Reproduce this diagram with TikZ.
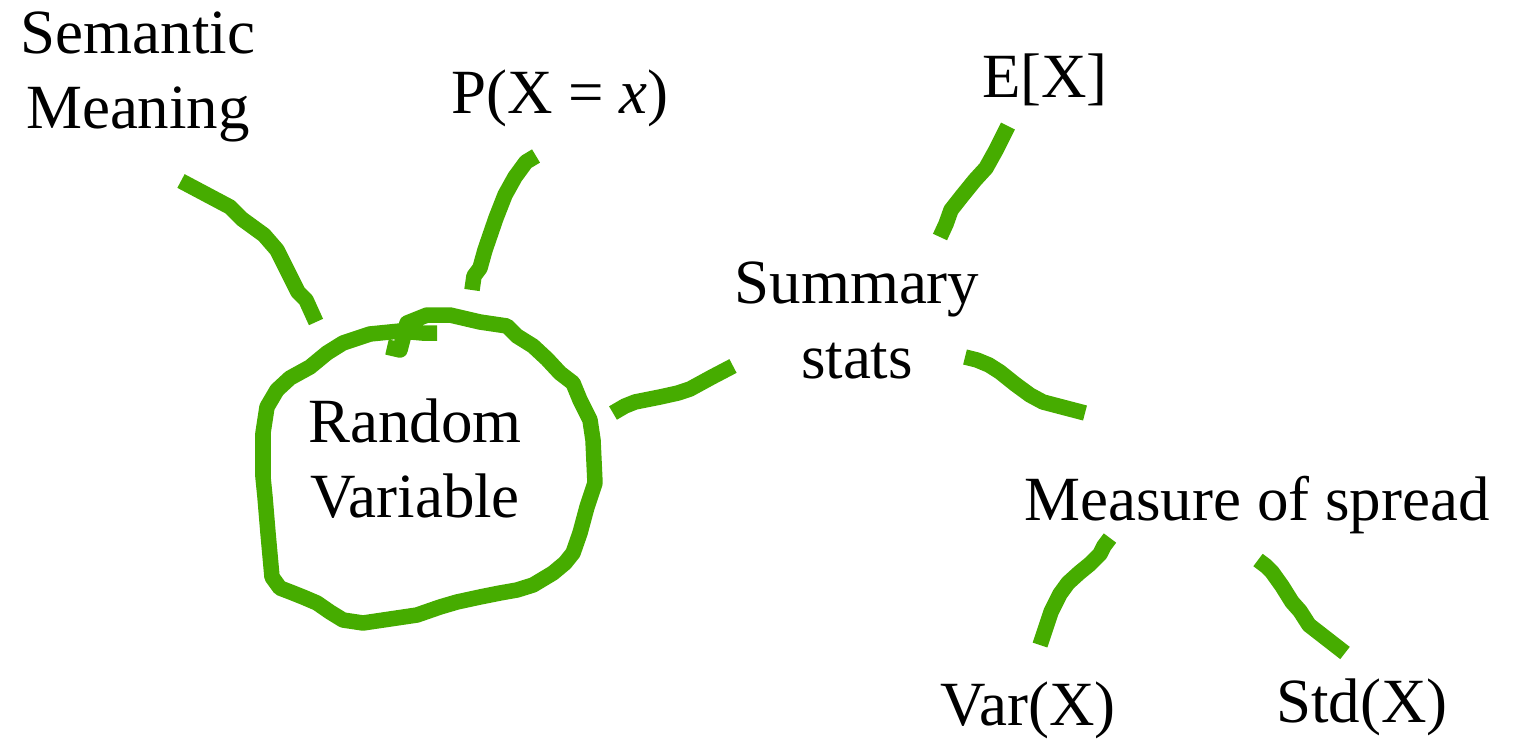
\documentclass[tikz,border=0pt]{standalone}
\usepackage{fontspec}
\setmainfont{Liberation Serif}
\definecolor{stroke}{RGB}{70,172,0}
\tikzset{
  lbl/.style={inner sep=0pt, anchor=base, align=center, font=\fontsize{17.9}{21.3}\selectfont},
  pen/.style={draw=stroke, line width=0.155cm, line cap=butt, line join=round}
}
\begin{document}
\begin{tikzpicture}[x=0.01cm,y=-0.01cm]
\useasboundingbox (0,0) rectangle (1520,742);
% labels
\node[lbl] (sem) at (138,128) {Semantic\\Meaning};
\node[lbl] (prob) at (560,113) {P(X = \textit{x})};
\node[lbl] (ex) at (1045,97) {E[X]};
\node[lbl] (sum) at (857,378) {Summary\\stats};
\node[lbl] (rv) at (415,517) {Random\\Variable};
\node[lbl] (spread) at (1257,520) {Measure of spread};
\node[lbl] (var) at (1028,725) {Var(X)};
\node[lbl] (std) at (1362,722) {Std(X)};
% stroke end points
\coordinate (s1a) at (181,181); \coordinate (s1b) at (316,322);
\coordinate (s2a) at (536,156); \coordinate (s2b) at (472,290);
\coordinate (s4a) at (613,413); \coordinate (s4b) at (733,366);
\coordinate (s5a) at (1008,126); \coordinate (s5b) at (940,237);
\coordinate (s6a) at (965,357); \coordinate (s6b) at (1085,413);
\coordinate (s7a) at (1110,538); \coordinate (s7b) at (1040,645);
\coordinate (s8a) at (1258,560); \coordinate (s8b) at (1345,653);
% strokes
\draw[pen] (s1a) -- (230,207) -- (242,219) -- (264,235) -- (277,250) -- (298,292) -- (306,300) -- (s1b);
\draw[pen] (s2a) -- (526,162) -- (515,177) -- (505,195) -- (496,218) -- (485,250) -- (480,268) -- (474,276) -- (s2b);
\draw[pen] (s4a) -- (625,406) -- (635,402) -- (660,397) -- (678,393) -- (690,389) -- (712,377) -- (s4b);
\draw[pen] (s5a) -- (996,150) -- (986,168) -- (975,180) -- (962,196) -- (951,210) -- (946,224) -- (s5b);
\draw[pen] (s6a) -- (977,360) -- (989,365) -- (1000,372) -- (1015,384) -- (1030,395) -- (1043,402) -- (s6b);
\draw[pen] (s7a) -- (1104,546) -- (1100,554) -- (1090,564) -- (1079,573) -- (1068,583) -- (1060,594) -- (1051,612) -- (s7b);
\draw[pen] (s8a) -- (1266,566) -- (1272,572) -- (1282,586) -- (1292,602) -- (1300,611) -- (1309,625) -- (s8b);
% circle
\coordinate (ca) at (387,347);
\draw[pen] (ca) -- (400,350) -- (407,323) -- (427,315) -- (450,315) -- (480,322) -- (507,326) -- (517,336) -- (533,346) -- (547,359) -- (560,373) -- (573,383) -- (580,400) -- (590,420) -- (593,440) -- (595,483) -- (587,507) -- (580,533) -- (573,553) -- (565,563) -- (553,573) -- (533,585) -- (517,590) -- (500,593) -- (480,597) -- (457,602) -- (440,607) -- (417,615) -- (363,623) -- (343,620) -- (330,612) -- (317,603) -- (303,597) -- (293,593) -- (280,588) -- (272,577) -- (268,533) -- (265,497) -- (263,477) -- (263,433) -- (267,407) -- (277,390) -- (290,378) -- (310,367) -- (327,353) -- (343,343) -- (370,334) -- (400,331) -- (422,333) -- (437,333);
\end{tikzpicture}
\end{document}
